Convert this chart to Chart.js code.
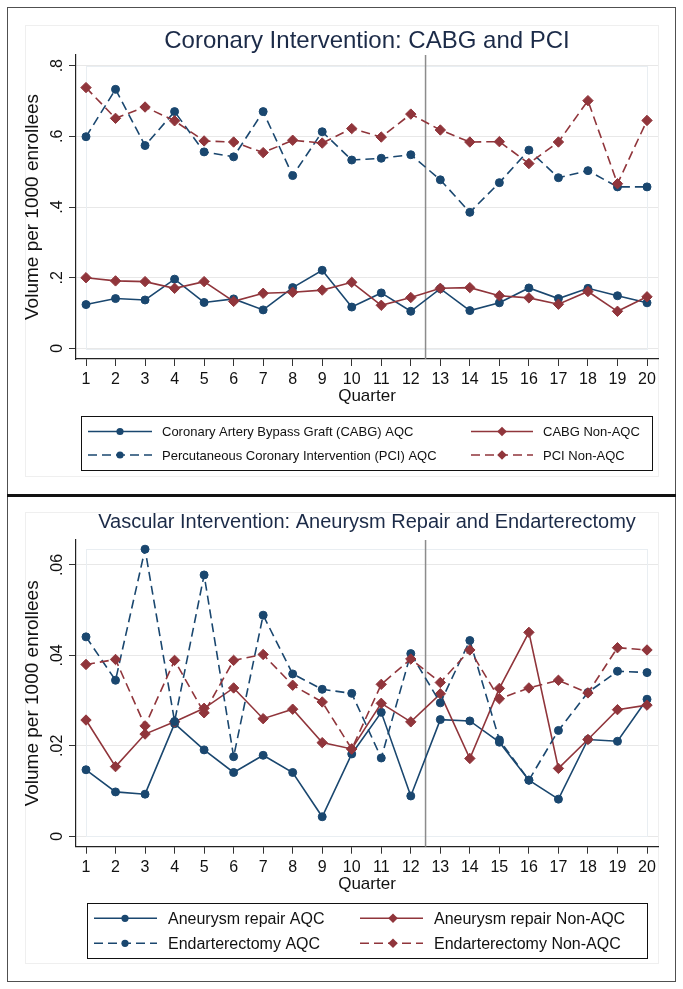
<!DOCTYPE html>
<html><head><meta charset="utf-8">
<script src="https://cdn.jsdelivr.net/npm/chart.js@4.4.1/dist/chart.umd.min.js"></script>
<style>
html,body{margin:0;padding:0;background:#fff;}
#wrap{position:relative;width:683px;height:989px;background:#fff;overflow:hidden;}
canvas{position:absolute;left:0;}
#c1{top:0;} #c2{top:494px;}
.frame{position:absolute;left:7px;top:7px;width:669px;height:975px;border:1.5px solid #505050;box-sizing:border-box;}
.sep{position:absolute;left:7px;width:669px;top:494px;height:3px;background:#111;}
.gr{position:absolute;border:1px solid #efefef;box-sizing:border-box;}
</style></head>
<body>
<div id="wrap">
<div class="gr" style="left:25px;top:25px;width:634px;height:452px;"></div>
<div class="gr" style="left:25px;top:512px;width:634px;height:452px;"></div>
<canvas id="c1" width="683" height="494"></canvas>
<canvas id="c2" width="683" height="495"></canvas>
<div class="frame"></div><div class="sep"></div>
</div>
<script>
// ---------- data ----------
const quarters = [1,2,3,4,5,6,7,8,9,10,11,12,13,14,15,16,17,18,19,20];
const quarterLabels = quarters.map(String);

// Coronary panel
const cabgAQC = [0.124,0.141,0.137,0.196,0.130,0.140,0.109,0.172,0.221,0.117,0.157,0.105,0.169,0.107,0.129,0.171,0.141,0.170,0.149,0.129];
const cabgNonAQC = [0.200,0.191,0.189,0.170,0.189,0.133,0.156,0.159,0.165,0.187,0.122,0.144,0.170,0.172,0.149,0.143,0.125,0.161,0.105,0.146];
const pciAQC = [0.599,0.733,0.574,0.670,0.556,0.542,0.670,0.489,0.613,0.533,0.538,0.548,0.477,0.385,0.469,0.561,0.483,0.503,0.457,0.457];
const pciNonAQC = [0.738,0.651,0.683,0.644,0.587,0.584,0.554,0.589,0.581,0.622,0.598,0.663,0.618,0.584,0.585,0.523,0.584,0.701,0.466,0.645];
const coronaryTicks = [0,0.2,0.4,0.6,0.8];
const coronaryTickLabels = ['0','.2','.4','.6','.8'];

// Vascular panel
const aneurysmAQC = [0.0147,0.0098,0.0093,0.0249,0.0191,0.0141,0.0179,0.0141,0.0043,0.0182,0.0274,0.0089,0.0258,0.0255,0.0208,0.0124,0.0082,0.0214,0.0210,0.0303];
const aneurysmNonAQC = [0.0257,0.0154,0.0226,0.0253,0.0283,0.0328,0.0260,0.0281,0.0207,0.0193,0.0294,0.0253,0.0315,0.0172,0.0327,0.0451,0.0150,0.0214,0.0280,0.0290];
const endarterectomyAQC = [0.0441,0.0345,0.0635,0.0254,0.0578,0.0176,0.0489,0.0359,0.0325,0.0316,0.0173,0.0404,0.0295,0.0433,0.0213,0.0124,0.0234,0.0318,0.0365,0.0362];
const endarterectomyNonAQC = [0.0380,0.0391,0.0244,0.0389,0.0273,0.0389,0.0402,0.0334,0.0297,0.0193,0.0336,0.0392,0.0340,0.0412,0.0304,0.0328,0.0345,0.0317,0.0417,0.0412];
const vascularTicks = [0,0.02,0.04,0.06];
const vascularTickLabels = ['0','.02','.04','.06'];

const breakQuarter = 12.5;

// ---------- styling ----------
const FONT = '"Liberation Sans", Arial, Helvetica, sans-serif';
const NAVY = '#1a476f';
const MAROON = '#90353b';
const DASH = [9,5];

function pts(arr){ return quarters.map((q,i)=>({x:q,y:arr[i]})); }
function ds(label, arr, color, dashed, style, order){
  return {
    label, data: pts(arr), borderColor: color, backgroundColor: color,
    borderWidth: 1.6, borderDash: dashed ? DASH : [],
    pointStyle: style, pointRadius: style==='circle'?4.0:5.2,
    pointBorderWidth: 1, pointBorderColor: color, pointBackgroundColor: color,
    tension: 0, order
  };
}

function drawMarker(ctx, style, x, y, r, color){
  ctx.fillStyle = color;
  ctx.beginPath();
  if (style==='circle'){ ctx.arc(x,y,r,0,Math.PI*2); }
  else { ctx.moveTo(x-r,y); ctx.lineTo(x,y-r); ctx.lineTo(x+r,y); ctx.lineTo(x,y+r); ctx.closePath(); }
  ctx.fill();
}

const decor = {
  id: 'decor',
  beforeDatasetsDraw(chart, args, o){
    const {ctx, chartArea: ca, scales:{x, y}} = chart;
    ctx.save();
    const x0 = x.getPixelForValue(quarters[0]), x1 = x.getPixelForValue(quarters[quarters.length-1]);
    const yb = y.getPixelForValue(0), yt = y.getPixelForValue(o.regionTop);
    ctx.strokeStyle = '#e9eef2'; ctx.lineWidth = 1;
    ctx.strokeRect(Math.round(x0)+0.5, Math.round(yt)+0.5, Math.round(x1-x0), Math.round(yb-yt));
    const vx = x.getPixelForValue(breakQuarter);
    ctx.strokeStyle = '#8c8c8c'; ctx.lineWidth = 1.5;
    ctx.beginPath(); ctx.moveTo(vx, ca.top); ctx.lineTo(vx, ca.bottom); ctx.stroke();
    ctx.restore();
  },
  afterDraw(chart, args, o){
    const {ctx, chartArea: ca, scales:{y}} = chart;
    ctx.save();
    ctx.fillStyle = '#111';
    ctx.font = '16px ' + FONT;
    ctx.textAlign = 'center'; ctx.textBaseline = 'alphabetic';
    y.ticks.forEach((t,i)=>{
      const py = y.getPixelForValue(t.value);
      ctx.save(); ctx.translate(o.tickX, py); ctx.rotate(-Math.PI/2);
      ctx.fillText(o.tickLabels[i], 0, 0); ctx.restore();
    });
    ctx.fillStyle = '#1c2b48';
    ctx.font = o.titleSize + 'px ' + FONT;
    ctx.textAlign = 'center';
    ctx.fillText(o.title, (ca.left+ca.right)/2, o.titleY);
    const L = o.legend;
    ctx.strokeStyle = '#111'; ctx.lineWidth = 1;
    ctx.strokeRect(L.box[0]+0.5, L.box[1]+0.5, L.box[2]-L.box[0], L.box[3]-L.box[1]);
    ctx.font = L.font + 'px ' + FONT;
    ctx.textAlign = 'left'; ctx.textBaseline = 'middle';
    L.items.forEach(it=>{
      const d = chart.data.datasets[it.ds];
      const col = L.cols[it.col], ry = L.rows[it.row];
      ctx.save();
      ctx.strokeStyle = d.borderColor; ctx.lineWidth = d.borderWidth;
      ctx.setLineDash(d.borderDash);
      ctx.beginPath(); ctx.moveTo(col.s0, ry); ctx.lineTo(col.s1, ry); ctx.stroke();
      ctx.restore();
      drawMarker(ctx, d.pointStyle, col.m, ry, d.pointStyle==='circle'?3.6:4.8, d.borderColor);
      ctx.fillStyle = '#111';
      ctx.fillText(d.label, col.t, ry+1);
    });
    ctx.restore();
  }
};

function makeChart(id, datasets, c){
  return new Chart(document.getElementById(id), {
    type: 'line',
    data: { datasets },
    plugins: [decor],
    options: {
      responsive: false, animation: false, devicePixelRatio: 1,
      layout: { padding: { left: 0, right: 25, top: c.padTop, bottom: 0 } },
      plugins: {
        legend: { display: false }, title: { display: false }, tooltip: { enabled: false },
        decor: c.decor
      },
      scales: {
        x: {
          type: 'linear', min: 0.6613, max: 20.3725,
          afterBuildTicks: s => { s.ticks = quarters.map(v => ({ value: v })); },
          afterFit: s => { s.height = c.xAxisH; },
          ticks: { autoSkip: false, maxRotation: 0, minRotation: 0, padding: 4, color: '#111',
                   font: { family: FONT, size: 16 }, callback: (v, i) => quarterLabels[i] },
          grid: { drawOnChartArea: false, drawTicks: true, tickLength: 7, tickColor: '#333', tickWidth: 1 },
          border: { display: true, color: '#222', width: 1.2 },
          title: { display: true, text: 'Quarter', color: '#111', font: { family: FONT, size: 17 },
                   padding: { top: 0, bottom: c.qPad } }
        },
        y: {
          type: 'linear', min: c.yMin, max: c.yMax,
          afterBuildTicks: s => { s.ticks = c.yTicks.map(v => ({ value: v })); },
          afterFit: s => { s.width = 76; },
          ticks: { display: false },
          grid: { color: '#e8e8e8', lineWidth: 1, drawTicks: true, tickLength: 7, tickColor: '#333', tickWidth: 1 },
          border: { display: true, color: '#222', width: 1.2 },
          title: { display: true, text: 'Volume per 1000 enrollees', color: '#111',
                   font: { family: FONT, size: 19 }, padding: { top: 21.5, bottom: 0 } }
        }
      }
    }
  });
}

makeChart('c1', [
  ds('Coronary Artery Bypass Graft (CABG) AQC', cabgAQC, NAVY, false, 'circle', 4),
  ds('CABG Non-AQC', cabgNonAQC, MAROON, false, 'rectRot', 3),
  ds('Percutaneous Coronary Intervention (PCI) AQC', pciAQC, NAVY, true, 'circle', 2),
  ds('PCI Non-AQC', pciNonAQC, MAROON, true, 'rectRot', 1)
], {
  padTop: 55, xAxisH: 135, qPad: 87.8, yMin: -0.030, yMax: 0.8302, yTicks: coronaryTicks,
  decor: {
    regionTop: Math.max(coronaryTicks[coronaryTicks.length-1], ...cabgAQC, ...cabgNonAQC, ...pciAQC, ...pciNonAQC),
    tickX: 62, tickLabels: coronaryTickLabels,
    title: 'Coronary Intervention: CABG and PCI', titleSize: 24, titleY: 48,
    legend: {
      box: [81, 416, 652, 470], font: 13, rows: [431.5, 455],
      cols: [{ s0: 88, s1: 152, m: 120, t: 162 }, { s0: 471, s1: 533, m: 502, t: 543 }],
      items: [{ ds: 0, col: 0, row: 0 }, { ds: 1, col: 1, row: 0 }, { ds: 2, col: 0, row: 1 }, { ds: 3, col: 1, row: 1 }]
    }
  }
});

makeChart('c2', [
  ds('Aneurysm repair AQC', aneurysmAQC, NAVY, false, 'circle', 4),
  ds('Aneurysm repair Non-AQC', aneurysmNonAQC, MAROON, false, 'rectRot', 3),
  ds('Endarterectomy AQC', endarterectomyAQC, NAVY, true, 'circle', 2),
  ds('Endarterectomy Non-AQC', endarterectomyNonAQC, MAROON, true, 'rectRot', 1)
], {
  padTop: 46, xAxisH: 142.3, qPad: 94.8, yMin: -0.00232, yMax: 0.06553, yTicks: vascularTicks,
  decor: {
    regionTop: Math.max(vascularTicks[vascularTicks.length-1], ...aneurysmAQC, ...aneurysmNonAQC, ...endarterectomyAQC, ...endarterectomyNonAQC),
    tickX: 62, tickLabels: vascularTickLabels,
    title: 'Vascular Intervention: Aneurysm Repair and Endarterectomy', titleSize: 20, titleY: 34,
    legend: {
      box: [87, 409, 647, 464], font: 16, rows: [424.3, 449.3],
      cols: [{ s0: 94, s1: 157, m: 125, t: 168 }, { s0: 360, s1: 423, m: 393, t: 434 }],
      items: [{ ds: 0, col: 0, row: 0 }, { ds: 1, col: 1, row: 0 }, { ds: 2, col: 0, row: 1 }, { ds: 3, col: 1, row: 1 }]
    }
  }
});
</script>
</body></html>
